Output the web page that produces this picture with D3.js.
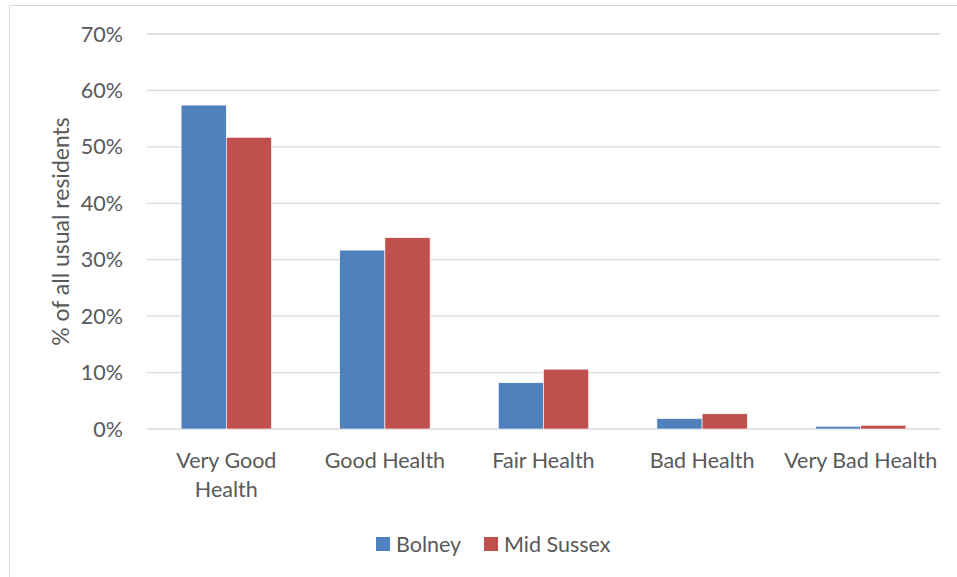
<!DOCTYPE html>
<html><head><meta charset="utf-8">
<script src="https://cdn.jsdelivr.net/npm/d3@7"></script>
<style>body{margin:0;background:#fff;} text{font-family:Lato,"Open Sans",sans-serif;fill:#595959;}</style>
</head><body>
<svg id="c" width="957" height="577"></svg>
<script>
const categories = [["Very Good","Health"],["Good Health"],["Fair Health"],["Bad Health"],["Very Bad Health"]];
const seriesNames = ["Bolney","Mid Sussex"];
const bolney = [57.4, 31.7, 8.2, 1.85, 0.48];
const midSussex = [51.7, 33.9, 10.6, 2.7, 0.66];
const yTicks = [0,10,20,30,40,50,60,70];
const colors = ["#4f81bd","#c0504d"];

(function(){
const svg = d3.select("#c");
svg.append("rect").attr("x",9.5).attr("y",5.5).attr("width",1000).attr("height",1000)
  .attr("fill","#fff").attr("stroke","#d9d9d9");

const pL=147, pR=940, pT=34, pB=429;
const fs = 21.5;
const x = d3.scaleBand().domain(d3.range(categories.length)).range([pL,pR]).paddingInner(0.43).paddingOuter(0.215);
const xs = d3.scaleBand().domain([0,1]).range([0,x.bandwidth()]);
const y = d3.scaleLinear().domain([0,70]).range([pB,pT]);

svg.append("g").selectAll("line").data(yTicks).join("line")
  .attr("x1",pL).attr("x2",pR).attr("y1",d=>y(d)).attr("y2",d=>y(d))
  .attr("stroke","#d9d9d9").attr("stroke-width",1.3);

svg.append("g").selectAll("text").data(yTicks).join("text")
  .attr("x",123).attr("y",d=>y(d)).attr("dy","0.35em").attr("text-anchor","end")
  .attr("font-size",fs).text(d=>d+"%");

const data = [bolney, midSussex];
data.forEach((arr,si)=>{
  svg.append("g").selectAll("rect").data(arr).join("rect")
    .attr("x",(d,i)=>x(i)+xs(si)).attr("width",xs.bandwidth())
    .attr("y",d=>y(d)).attr("height",d=>y(0)-y(d))
    .attr("fill",colors[si]).attr("stroke","#fff").attr("stroke-width",0.6);
});

const cl = svg.append("g").selectAll("text").data(categories).join("text")
  .attr("x",(d,i)=>x(i)+x.bandwidth()/2).attr("y",468).attr("text-anchor","middle").attr("font-size",fs);
cl.selectAll("tspan").data(d=>d).join("tspan")
  .attr("x",function(){return this.parentNode.getAttribute("x");})
  .attr("dy",(d,i)=>i===0?0:29).text(d=>d);

svg.append("text").attr("transform",`translate(69,${(pT+pB)/2}) rotate(-90)`)
  .attr("text-anchor","middle").attr("font-size",23).text("% of all usual residents");

const lg = svg.append("g");
const lx=[376,484];
seriesNames.forEach((n,i)=>{
  lg.append("rect").attr("x",lx[i]).attr("y",537).attr("width",14).attr("height",14).attr("fill",colors[i]);
  lg.append("text").attr("x",lx[i]+20).attr("y",551.5).attr("font-size",fs).text(n);
});
})();
</script>
</body></html>
